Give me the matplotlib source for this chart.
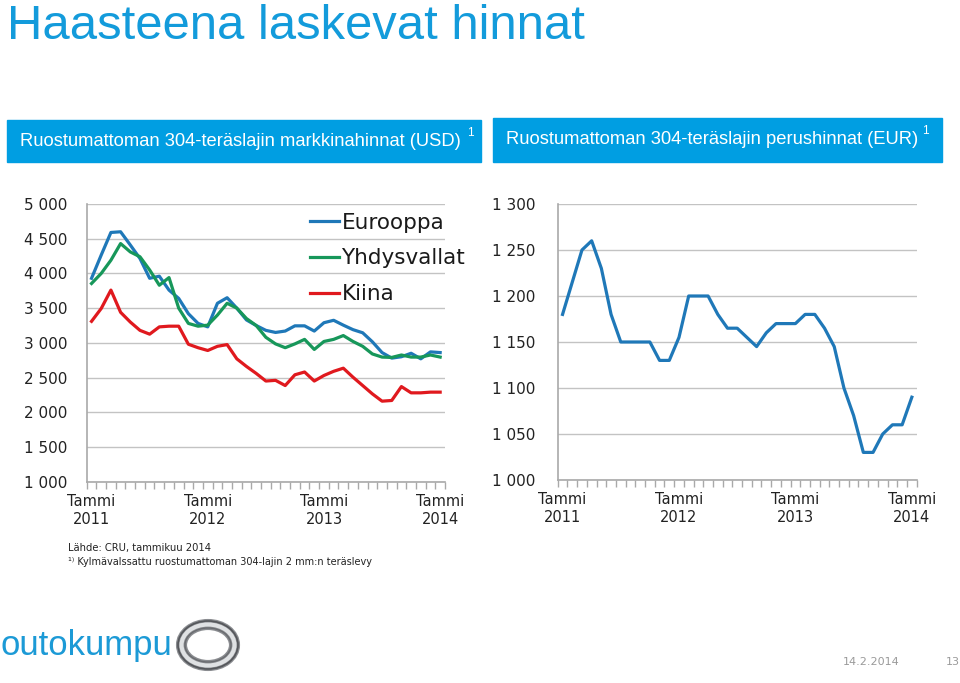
import matplotlib
matplotlib.use("Agg")
import matplotlib.pyplot as plt
from matplotlib.patches import Rectangle, Ellipse
from matplotlib.ticker import FixedLocator, FuncFormatter

# ---------------- data ----------------
months = list(range(37))  # Jan 2011 .. Jan 2014
xtick_pos = [0, 12, 24, 36]
xtick_labels = ["Tammi\n2011", "Tammi\n2012", "Tammi\n2013", "Tammi\n2014"]

eurooppa = [3930, 4265, 4590, 4600, 4410, 4215, 3930, 3960, 3760, 3640,
            3420, 3280, 3230, 3570, 3650, 3500, 3330, 3250, 3180, 3150,
            3170, 3245, 3245, 3170, 3290, 3325, 3255, 3190, 3145, 3015,
            2860, 2780, 2800, 2850, 2770, 2870, 2860]
yhdysvallat = [3855, 4000, 4190, 4430, 4310, 4240, 4050, 3830, 3940, 3500,
               3280, 3240, 3255, 3400, 3570, 3500, 3350, 3250, 3080, 2985,
               2930, 2985, 3050, 2905, 3020, 3050, 3105, 3020, 2950, 2840,
               2795, 2790, 2825, 2795, 2795, 2825, 2795]
kiina = [3310, 3495, 3760, 3440, 3300, 3180, 3125, 3230, 3240, 3240,
         2980, 2930, 2890, 2950, 2975, 2770, 2660, 2560, 2450, 2460,
         2385, 2540, 2580, 2450, 2530, 2590, 2635, 2505, 2385, 2265,
         2160, 2170, 2370, 2280, 2280, 2290, 2290]
perushinta = [1180, 1215, 1250, 1260, 1230, 1180, 1150, 1150, 1150, 1150,
              1130, 1130, 1155, 1200, 1200, 1200, 1180, 1165, 1165, 1155,
              1145, 1160, 1170, 1170, 1170, 1180, 1180, 1165, 1145, 1100,
              1070, 1030, 1030, 1050, 1060, 1060, 1090]

left_yticks = [1000, 1500, 2000, 2500, 3000, 3500, 4000, 4500, 5000]
right_yticks = [1000, 1050, 1100, 1150, 1200, 1250, 1300]

BLUE_BOX = "#009ee2"
TITLE_BLUE = "#139bdb"
C_EU = "#1f78b8"
C_US = "#17975a"
C_CN = "#e0191e"
GRID = "#c3c3c3"
SPINE = "#a9a9a9"

W, H = 960, 683
fig = plt.figure(figsize=(9.6, 6.83), dpi=100)
fig.patch.set_facecolor("white")


def fx(px):
    return px / W


def fy(py):
    return 1 - py / H


def thousands(v, pos=None):
    return f"{int(v):,}".replace(",", " ")


def style_axes(ax, yticks, ylim, ypad):
    ax.set_xlim(-0.5, 36.5)
    ax.set_ylim(*ylim)
    ax.set_yticks(yticks)
    ax.yaxis.set_major_formatter(FuncFormatter(thousands))
    ax.set_xticks(xtick_pos)
    ax.set_xticklabels(xtick_labels, fontsize=10.5, color="#222222",
                       linespacing=1.2, family="DejaVu Sans")
    ax.xaxis.set_minor_locator(FixedLocator([i - 0.5 for i in range(38)]))
    ax.tick_params(axis="x", which="major", length=0, pad=9)
    ax.tick_params(axis="x", which="minor", length=5, width=1, color=SPINE,
                   direction="out")
    ax.tick_params(axis="y", length=0, pad=ypad, labelsize=11,
                   labelcolor="#222222")
    for lab in ax.get_yticklabels():
        lab.set_family("DejaVu Sans")
    ax.grid(axis="y", color=GRID, linewidth=1)
    ax.set_axisbelow(True)
    for s in ("top", "right"):
        ax.spines[s].set_visible(False)
    ax.spines["left"].set_color(SPINE)
    ax.spines["left"].set_linewidth(1.2)
    ax.spines["bottom"].set_color(SPINE)
    ax.spines["bottom"].set_linewidth(1.2)


# ---------------- left chart ----------------
axL = fig.add_axes([fx(86.7), fy(481.7), fx(445 - 86.7), (481.7 - 204) / H])
style_axes(axL, left_yticks, (1000, 5000), 14)
axL.plot(months, eurooppa, color=C_EU, lw=2.3, label="Eurooppa",
         solid_joinstyle="round")
axL.plot(months, yhdysvallat, color=C_US, lw=2.3, label="Yhdysvallat",
         solid_joinstyle="round")
axL.plot(months, kiina, color=C_CN, lw=2.3, label="Kiina",
         solid_joinstyle="round")
leg = axL.legend(loc="upper left", bbox_to_anchor=(0.6, 1.0), frameon=False,
                 fontsize=15.5, handlelength=1.35, handletextpad=0.1,
                 labelspacing=0.73, borderaxespad=0)
for t in leg.get_texts():
    t.set_color("#1a1a1a")

# ---------------- right chart ----------------
axR = fig.add_axes([fx(557.7), fy(480), fx(916.7 - 557.7), (480 - 204) / H])
style_axes(axR, right_yticks, (1000, 1300), 16)
axR.plot(months, perushinta, color=C_EU, lw=2.3, solid_joinstyle="round")

# ---------------- title & header boxes ----------------
fig.text(fx(7), fy(39), "Haasteena laskevat hinnat", color=TITLE_BLUE,
         fontsize=35.3, family="Liberation Sans", va="baseline", ha="left")

fig.patches.append(Rectangle((fx(7), fy(162)), fx(481 - 7), (162 - 120) / H,
                             transform=fig.transFigure, color=BLUE_BOX,
                             zorder=0))
fig.patches.append(Rectangle((fx(493), fy(162)), fx(942 - 493), (162 - 118) / H,
                             transform=fig.transFigure, color=BLUE_BOX,
                             zorder=0))
fig.text(fx(20), fy(141), "Ruostumattoman 304-teräslajin markkinahinnat (USD)",
         color="white", fontsize=13.2, family="Liberation Sans", va="center")
fig.text(fx(467), fy(133), "1", color="white", fontsize=8.5,
         family="Liberation Sans", va="center")
fig.text(fx(506), fy(139), "Ruostumattoman 304-teräslajin perushinnat (EUR)",
         color="white", fontsize=13.2, family="Liberation Sans", va="center")
fig.text(fx(922), fy(131), "1", color="white", fontsize=8.5,
         family="Liberation Sans", va="center")

# ---------------- footnotes ----------------
fig.text(fx(68), fy(548), "Lähde: CRU, tammikuu 2014", fontsize=7.2,
         color="#222222", family="DejaVu Sans", va="center")
fig.text(fx(68), fy(562), "¹⁾ Kylmävalssattu ruostumattoman 304-lajin 2 mm:n teräslevy",
         fontsize=7.0, color="#222222", family="DejaVu Sans", va="center")

# ---------------- logo & page info ----------------
fig.text(fx(1), fy(645), "outokumpu", color="#1c9ad6", fontsize=25,
         family="Liberation Sans", va="center", ha="left")
logo_ax = fig.add_axes([0, 0, 1, 1], zorder=-1)
logo_ax.set_xlim(0, W)
logo_ax.set_ylim(H, 0)
logo_ax.axis("off")
logo_ax.add_patch(Ellipse((208, 645), 53, 41, fill=False,
                          edgecolor="#8a8c90", linewidth=8))
logo_ax.add_patch(Ellipse((208, 645), 53, 41, fill=False,
                          edgecolor="#dfe1e3", linewidth=3))
logo_ax.add_patch(Ellipse((208, 645), 60, 48, fill=False,
                          edgecolor="#55575b", linewidth=1.2))
logo_ax.add_patch(Ellipse((208, 645), 46, 34, fill=False,
                          edgecolor="#6a6c70", linewidth=1.0))

fig.text(fx(843), fy(662), "14.2.2014", fontsize=8, color="#9a9a9a",
         family="DejaVu Sans", va="center")
fig.text(fx(946), fy(662), "13", fontsize=8, color="#9a9a9a",
         family="DejaVu Sans", va="center")

fig.savefig("out.png", dpi=100)
